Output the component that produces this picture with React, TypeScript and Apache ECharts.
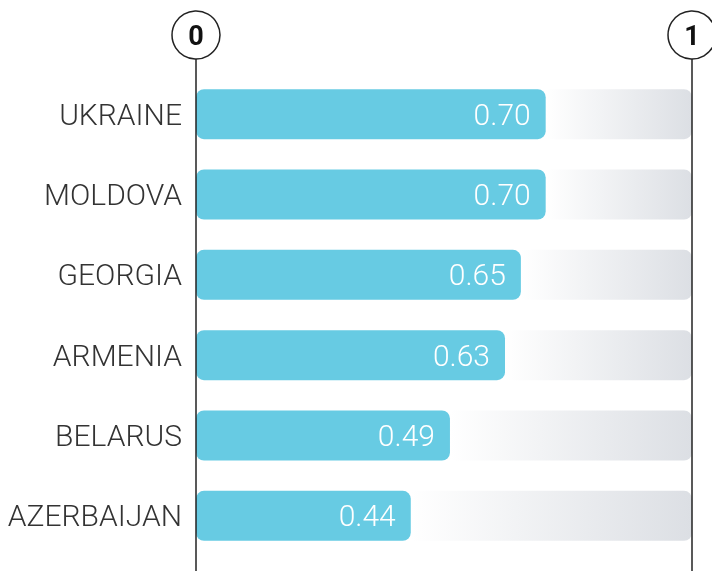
import React, { useEffect, useRef } from "react";
import * as echarts from "echarts";

const categories = ["UKRAINE", "MOLDOVA", "GEORGIA", "ARMENIA", "BELARUS", "AZERBAIJAN"];
const valueLabels = ["0.70", "0.70", "0.65", "0.63", "0.49", "0.44"];
const barLengths = [0.705, 0.705, 0.655, 0.623, 0.512, 0.433];
const axisMarks = [0, 1];

export default function App() {
  const ref = useRef<HTMLDivElement>(null);
  useEffect(() => {
    document.body.style.margin = "0";
    const chart = echarts.init(ref.current!, null, { renderer: "svg" });
    const option: any = {
      animation: false,
      grid: { left: 196, right: 20, top: 74, bottom: 15 },
      xAxis: { type: "value", min: 0, max: 1, show: false },
      yAxis: {
        type: "category",
        data: categories,
        inverse: true,
        axisLine: { show: false },
        axisTick: { show: false },
        axisLabel: {
          fontSize: 30,
          color: "#333",
          fontFamily: "Roboto",
          fontWeight: 300,
          margin: 14,
        },
      },
      series: [
        {
          type: "bar",
          stack: "a",
          data: barLengths,
          barWidth: 50,
          itemStyle: { color: "#67cbe3", borderRadius: 8 },
          label: {
            show: true,
            position: "insideRight",
            distance: 15,
            color: "#fff",
            fontSize: 30,
            fontFamily: "Roboto",
            fontWeight: 300,
            formatter: (p: any) => valueLabels[p.dataIndex],
          },
          z: 3,
        },
        {
          type: "bar",
          stack: "a",
          data: barLengths.map((v) => +(1 - v).toFixed(4)),
          barWidth: 50,
          itemStyle: {
            borderRadius: [0, 8, 8, 0],
            color: new echarts.graphic.LinearGradient(0, 0, 1, 0, [
              { offset: 0, color: "#ffffff" },
              { offset: 1, color: "#dcdfe4" },
            ]),
          },
          z: 2,
        },
      ],
    };
    chart.setOption(option);
    const graphics: any[] = [];
    axisMarks.forEach((m) => {
      const x = chart.convertToPixel({ xAxisIndex: 0 }, m) as number;
      graphics.push({
        type: "line",
        shape: { x1: x, y1: 59, x2: x, y2: 571 },
        style: { stroke: "#222", lineWidth: 1.5 },
        z: 10,
      });
      graphics.push({
        type: "circle",
        shape: { cx: x, cy: 35, r: 24 },
        style: { fill: "#fff", stroke: "#222", lineWidth: 1.5 },
        z: 10,
      });
      graphics.push({
        type: "text",
        x: x,
        y: 36,
        style: {
          text: String(m),
          fontSize: 27,
          fontWeight: "bold",
          fontFamily: "Roboto",
          fill: "#111",
          align: "center",
          verticalAlign: "middle",
        },
        z: 11,
      });
    });
    chart.setOption({ graphic: graphics });
    return () => chart.dispose();
  }, []);
  return (
    <div
      ref={ref}
      style={{ position: "fixed", left: 0, top: 0, width: 712, height: 571 }}
    />
  );
}
